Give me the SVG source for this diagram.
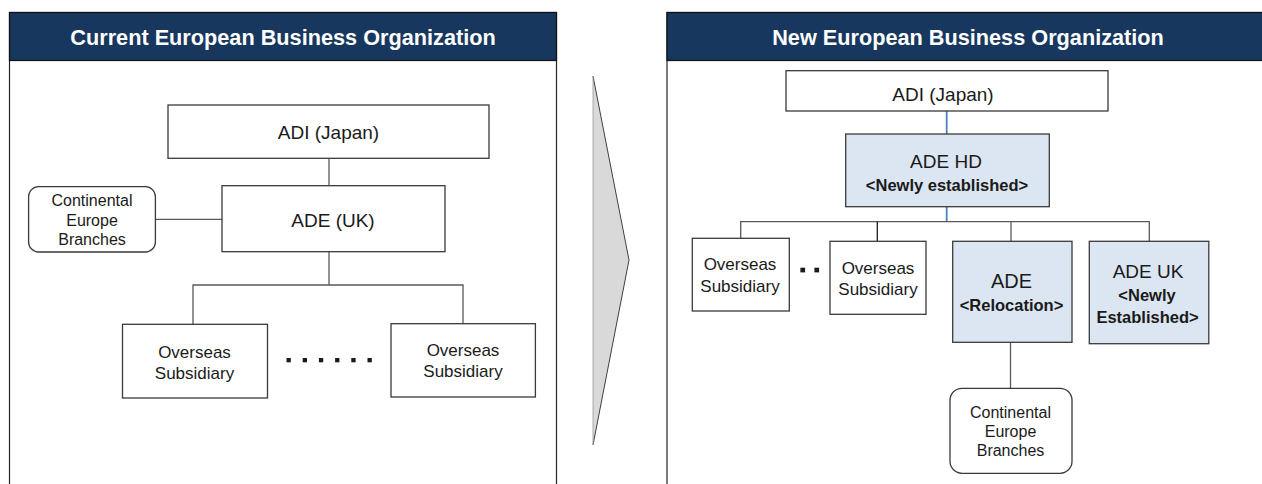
<svg xmlns="http://www.w3.org/2000/svg" width="1262" height="484" viewBox="0 0 1262 484">
<style>
  .panel { fill: #ffffff; stroke: #262626; stroke-width: 1.2; }
  .hdr { fill: #17375e; stroke: #111111; stroke-width: 1.2; }
  .hdrtxt { font-family: "Liberation Sans", Arial, sans-serif; font-weight: bold; font-size: 21.7px; fill: #ffffff; text-anchor: middle; }
  .box { fill: #ffffff; stroke: #3a3a3a; stroke-width: 1.3; }
  .hl { fill: #dce6f2; stroke: #3a3a3a; stroke-width: 1.3; }
  .t { font-family: "Liberation Sans", Arial, sans-serif; fill: #1a1a1a; text-anchor: middle; }
  .big { font-size: 19px; }
  .mid { font-size: 17px; }
  .sm { font-size: 16px; }
  .b { font-weight: bold; font-size: 16.5px; }
  .ln { stroke: #595959; stroke-width: 1.3; fill: none; }
  .blk { stroke: #1a1a1a; stroke-width: 1.3; fill: none; }
  .blue { stroke: #4f81bd; stroke-width: 1.8; fill: none; }
  .dot { fill: #1a1a1a; }
</style>

<!-- panels -->
<g id="panel-current">
  <rect class="panel" x="9.5" y="12.5" width="547" height="520"/>
  <rect class="hdr" x="9.5" y="12.5" width="547" height="48"/>
  <text class="hdrtxt" x="283" y="44.7">Current European Business Organization</text>
</g>
<g id="panel-new">
  <rect class="panel" x="667" y="12.5" width="620" height="520"/>
  <rect class="hdr" x="667" y="12.5" width="620" height="48"/>
  <text class="hdrtxt" x="968" y="44.7">New European Business Organization</text>
</g>

<g id="transition-arrow">
  <polygon points="593,76 629,260 593,445" fill="#d9d9d9" stroke="none"/>
  <polyline points="593,76 629,260 593,445" fill="none" stroke="#404040" stroke-width="1"/>
  <line x1="593" y1="76" x2="593" y2="445" stroke="#9a9a9a" stroke-width="0.8"/>
</g>

<!-- connectors -->
<g id="connectors">
  <line class="ln" x1="329" y1="158.3" x2="329" y2="185.7"/>
  <line class="ln" x1="155.4" y1="219.3" x2="222" y2="219.3"/>
  <polyline class="ln" points="329,251.7 329,285"/>
  <polyline class="ln" points="193,324.3 193,285 463,285 463,323.7"/>

  <line class="blue" x1="946.7" y1="111" x2="946.7" y2="134"/>
  <line class="blue" x1="946.7" y1="206.7" x2="946.7" y2="221.7"/>
  <polyline class="ln" points="740.7,238.3 740.7,221.7 1149.3,221.7 1149.3,241.3"/>
  <line class="blk" x1="877.3" y1="221.7" x2="877.3" y2="242"/>
  <line class="ln" x1="1011" y1="221.7" x2="1011" y2="241.3"/>
  <line class="ln" x1="1010.5" y1="342.3" x2="1010.5" y2="388.3"/>
</g>

<!-- left nodes -->
<g id="l-adi">
  <rect class="box" x="168" y="105" width="321" height="53.3"/>
  <text class="t big" x="328.5" y="138.5">ADI (Japan)</text>
</g>
<g id="l-ade">
  <rect class="box" x="222" y="185.7" width="223" height="66"/>
  <text class="t big" x="333" y="227">ADE (UK)</text>
</g>
<g id="l-branches">
  <rect class="box" x="28.6" y="186.7" width="126.8" height="65.3" rx="10" ry="10"/>
  <text class="t sm" x="92" y="206">Continental</text>
  <text class="t sm" x="92" y="225.5">Europe</text>
  <text class="t sm" x="92" y="245">Branches</text>
</g>
<g id="l-sub1">
  <rect class="box" x="122.5" y="324.3" width="145" height="73.7"/>
  <text class="t mid" x="194.5" y="358.3">Overseas</text>
  <text class="t mid" x="194.5" y="379">Subsidiary</text>
</g>
<g id="l-dots">
  <rect class="dot" x="286.5" y="358" width="4.3" height="4.3"/>
  <rect class="dot" x="302.7" y="358" width="4.3" height="4.3"/>
  <rect class="dot" x="318.9" y="358" width="4.3" height="4.3"/>
  <rect class="dot" x="335.1" y="358" width="4.3" height="4.3"/>
  <rect class="dot" x="351.3" y="358" width="4.3" height="4.3"/>
  <rect class="dot" x="367.5" y="358" width="4.3" height="4.3"/>
</g>
<g id="l-sub2">
  <rect class="box" x="391" y="323.7" width="144.4" height="73.3"/>
  <text class="t mid" x="463" y="356">Overseas</text>
  <text class="t mid" x="463" y="376.7">Subsidiary</text>
</g>

<!-- right nodes -->
<g id="r-adi">
  <rect class="box" x="786" y="70.7" width="322" height="40.3"/>
  <text class="t big" x="943" y="100.5">ADI (Japan)</text>
</g>
<g id="r-adehd">
  <rect class="hl" x="845.7" y="134" width="203.6" height="72.7"/>
  <text class="t big" x="946" y="168.3">ADE HD</text>
  <text class="t b" x="947" y="190.5">&lt;Newly established&gt;</text>
</g>
<g id="r-sub1">
  <rect class="box" x="692.3" y="238.3" width="97" height="72.7"/>
  <text class="t mid" x="740" y="270.3">Overseas</text>
  <text class="t mid" x="740" y="292">Subsidiary</text>
</g>
<g id="r-dots">
  <rect class="dot" x="800.4" y="267.7" width="4.7" height="4.7"/>
  <rect class="dot" x="814.4" y="267.7" width="4.7" height="4.7"/>
</g>
<g id="r-sub2">
  <rect class="box" x="830" y="241.3" width="96" height="73"/>
  <text class="t mid" x="878" y="273.7">Overseas</text>
  <text class="t mid" x="878" y="294.7">Subsidiary</text>
</g>
<g id="r-ade">
  <rect class="hl" x="952.7" y="241.3" width="119.3" height="101"/>
  <text class="t" style="font-size:20px" x="1011.5" y="288">ADE</text>
  <text class="t b" x="1011.5" y="311">&lt;Relocation&gt;</text>
</g>
<g id="r-adeuk">
  <rect class="hl" x="1089.3" y="241.3" width="119.5" height="102.4"/>
  <text class="t" style="font-size:19px" x="1148" y="277.5">ADE UK</text>
  <text class="t b" x="1147" y="301">&lt;Newly</text>
  <text class="t b" x="1147.5" y="322.5">Established&gt;</text>
</g>
<g id="r-branches">
  <rect class="box" x="950" y="388.3" width="122" height="85" rx="12" ry="12"/>
  <text class="t sm" x="1010.5" y="417.5">Continental</text>
  <text class="t sm" x="1010.5" y="436.7">Europe</text>
  <text class="t sm" x="1010.5" y="456">Branches</text>
</g>
</svg>
